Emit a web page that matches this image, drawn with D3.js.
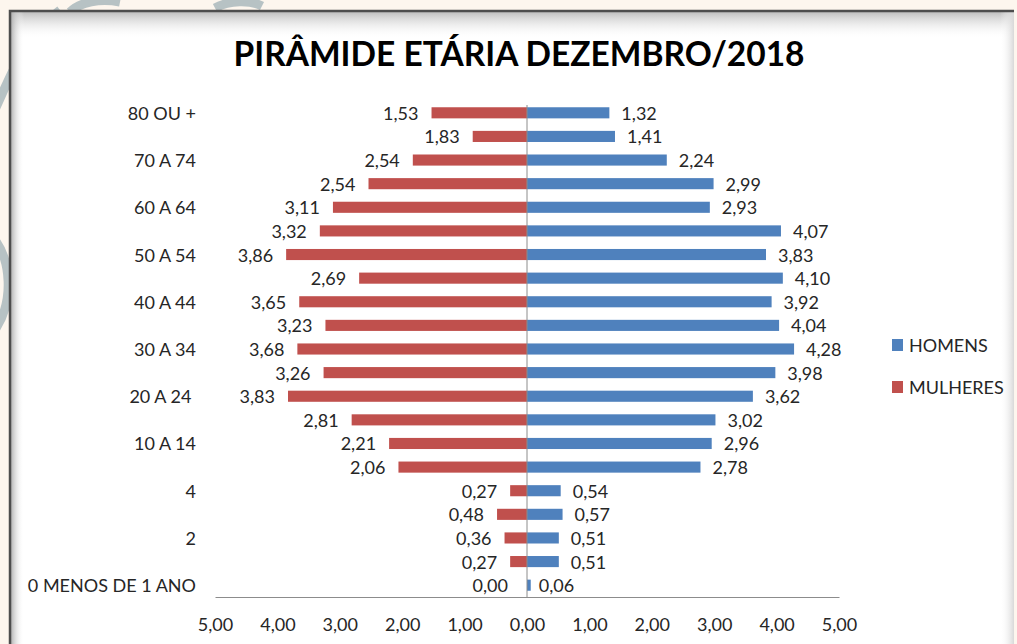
<!DOCTYPE html>
<html>
<head>
<meta charset="utf-8">
<script src="https://cdn.jsdelivr.net/npm/d3@7"></script>
<style>
  body { margin: 0; background: #fdf6ee; }
  svg { display: block; font-family: Lato, "Open Sans", sans-serif; }
</style>
</head>
<body>
<div id="chart"></div>
<script>
// Age groups, top to bottom
const categories = ["80 OU +", "75 A 79", "70 A 74", "65 A 69", "60 A 64", "55 A 59",
    "50 A 54", "45 A 49", "40 A 44", "35 A 39", "30 A 34", "25 A 29", "20 A 24 ",
    "15 A 19", "10 A 14", "5 A 9", "4", "3", "2", "1", "0 MENOS DE 1 ANO"];

// Bar lengths (%)
const homens = [1.32, 1.41, 2.24, 2.99, 2.93, 4.07, 3.83, 4.10, 3.92, 4.04, 4.28,
    3.98, 3.62, 3.02, 2.96, 2.78, 0.54, 0.57, 0.51, 0.51, 0.06];
const mulheres = [1.53, 0.87, 1.83, 2.54, 3.11, 3.32, 3.86, 2.69, 3.65, 3.23, 3.68,
    3.26, 3.83, 2.81, 2.21, 2.06, 0.27, 0.48, 0.36, 0.27, 0.00];

// Data label texts as printed on the chart
const homensLabels = ["1,32", "1,41", "2,24", "2,99", "2,93", "4,07", "3,83", "4,10",
    "3,92", "4,04", "4,28", "3,98", "3,62", "3,02", "2,96", "2,78", "0,54", "0,57",
    "0,51", "0,51", "0,06"];
const mulheresLabels = ["1,53", "1,83", "2,54", "2,54", "3,11", "3,32", "3,86", "2,69",
    "3,65", "3,23", "3,68", "3,26", "3,83", "2,81", "2,21", "2,06", "0,27", "0,48",
    "0,36", "0,27", "0,00"];

const xTicks = [-5, -4, -3, -2, -1, 0, 1, 2, 3, 4, 5];
const series = ["HOMENS", "MULHERES"];

const width = 1017,
    height = 644,
    margin = ({top: 101, right: 178, bottom: 47, left: 215});

const colors = {HOMENS: "#4f81bd", MULHERES: "#c0504d"};

const svg = d3.select("#chart")
    .append("svg")
    .attr("width", width)
    .attr("height", height);

// Slide background and framed panel
const defs = svg.append("defs");
const topShade = defs.append("linearGradient").attr("id", "topShade")
    .attr("x1", 0).attr("y1", 0).attr("x2", 0).attr("y2", 1);
topShade.append("stop").attr("offset", 0).attr("stop-color", "#b9b9b9");
topShade.append("stop").attr("offset", 1).attr("stop-color", "#ffffff").attr("stop-opacity", 0);
const leftShade = defs.append("linearGradient").attr("id", "leftShade")
    .attr("x1", 0).attr("y1", 0).attr("x2", 1).attr("y2", 0);
leftShade.append("stop").attr("offset", 0).attr("stop-color", "#a8a8a8");
leftShade.append("stop").attr("offset", 1).attr("stop-color", "#ffffff").attr("stop-opacity", 0);
const rightShade = defs.append("linearGradient").attr("id", "rightShade")
    .attr("x1", 0).attr("y1", 0).attr("x2", 1).attr("y2", 0);
rightShade.append("stop").attr("offset", 0).attr("stop-color", "#ffffff").attr("stop-opacity", 0);
rightShade.append("stop").attr("offset", 1).attr("stop-color", "#d8d8d8");

svg.append("rect").attr("width", width).attr("height", height).attr("fill", "#fdf6ee");

// pale decorative swirls behind the panel
svg.append("g")
    .attr("fill", "none")
    .attr("stroke", "#b7c2c4")
    .attr("stroke-width", 9)
    .selectAll("path")
    .data(["M-10,120 C10,80 20,40 60,10", "M-5,330 C15,300 10,260 -5,240",
        "M70,12 C80,2 100,-2 120,2", "M215,8 C230,0 250,0 262,6"])
    .join("path")
    .attr("d", d => d);

svg.append("rect")
    .attr("x", 10).attr("y", 11)
    .attr("width", 1004).attr("height", 650)
    .attr("fill", "#ffffff");
svg.append("rect").attr("x", 10).attr("y", 11).attr("width", 1004).attr("height", 28)
    .attr("fill", "url(#topShade)");
svg.append("rect").attr("x", 10).attr("y", 11).attr("width", 14).attr("height", 650)
    .attr("fill", "url(#leftShade)");
svg.append("rect").attr("x", 1000).attr("y", 11).attr("width", 14).attr("height", 650)
    .attr("fill", "url(#rightShade)");
svg.append("path")
    .attr("d", "M10,661 V11 H1014")
    .attr("fill", "none")
    .attr("stroke", "#4d4d4d")
    .attr("stroke-width", 2.5);

// Title
svg.append("text")
    .attr("x", 519)
    .attr("y", 66)
    .attr("text-anchor", "middle")
    .attr("font-size", 33.5)
    .attr("font-weight", 700)
    .attr("fill", "#000")
    .text("PIRÂMIDE ETÁRIA DEZEMBRO/2018");

// Scales
const x = d3.scaleLinear()
    .domain([-5, 5])
    .range([margin.left, width - margin.right]);

const y = d3.scaleBand()
    .domain(categories)
    .range([margin.top, height - margin.bottom])
    .paddingInner(0.53)
    .paddingOuter(0.265);

// Bars
const rows = categories.map((c, i) => ({
    cat: c, h: homens[i], m: mulheres[i], hl: homensLabels[i], ml: mulheresLabels[i]
}));

svg.append("g")
    .attr("fill", colors.MULHERES)
    .selectAll("rect")
    .data(rows)
    .join("rect")
    .attr("x", d => x(-d.m))
    .attr("y", d => y(d.cat))
    .attr("width", d => x(0) - x(-d.m))
    .attr("height", y.bandwidth());

svg.append("g")
    .attr("fill", colors.HOMENS)
    .selectAll("rect")
    .data(rows)
    .join("rect")
    .attr("x", x(0))
    .attr("y", d => y(d.cat))
    .attr("width", d => x(d.h) - x(0))
    .attr("height", y.bandwidth());

// Data labels
const labelG = svg.append("g")
    .attr("font-size", 18)
    .attr("fill", "#262626")
    .attr("dominant-baseline", "central");

labelG.selectAll(".lm")
    .data(rows)
    .join("text")
    .attr("class", "lm")
    .attr("text-anchor", "end")
    .attr("x", d => x(-d.m) - (d.m === 0 ? 19 : 13))
    .attr("y", d => y(d.cat) + y.bandwidth() / 2)
    .text(d => d.ml);

labelG.selectAll(".lh")
    .data(rows)
    .join("text")
    .attr("class", "lh")
    .attr("text-anchor", "start")
    .attr("x", d => x(d.h) + (d.h < 0.1 ? 8 : 12))
    .attr("y", d => y(d.cat) + y.bandwidth() / 2)
    .text(d => d.hl);

// Vertical category axis at zero
svg.append("line")
    .attr("x1", x(0)).attr("x2", x(0))
    .attr("y1", margin.top + 4).attr("y2", height - margin.bottom)
    .attr("stroke", "#8c8c8c")
    .attr("stroke-width", 1);

// Category labels (every other one)
svg.append("g")
    .attr("font-size", 18)
    .attr("fill", "#262626")
    .attr("text-anchor", "end")
    .attr("dominant-baseline", "central")
    .selectAll("text")
    .data(categories.filter((c, i) => i % 2 === 0))
    .join("text")
    .attr("x", 196)
    .attr("y", d => y(d) + y.bandwidth() / 2)
    .attr("xml:space", "preserve")
    .style("white-space", "pre")
    .text(d => d);

// Bottom value axis
const xAxis = svg.append("g")
    .attr("transform", `translate(0,${height - margin.bottom})`)
    .call(d3.axisBottom(x)
        .tickValues(xTicks)
        .tickSize(0)
        .tickPadding(21)
        .tickFormat(d => d3.format(".2f")(Math.abs(d)).replace(".", ",")));

xAxis.select(".domain")
    .attr("stroke", "#8c8c8c")
    .attr("stroke-width", 1);
xAxis.selectAll("text")
    .attr("font-family", "Lato, 'Open Sans', sans-serif")
    .attr("font-size", 18)
    .attr("fill", "#262626");

// Legend
const legend = svg.append("g")
    .selectAll("g")
    .data(series)
    .join("g")
    .attr("transform", (d, i) => `translate(892,${345 + i * 42})`);

legend.append("rect")
    .attr("x", 0).attr("y", -6)
    .attr("width", 11).attr("height", 12)
    .attr("fill", d => colors[d]);

legend.append("text")
    .attr("x", 17)
    .attr("dominant-baseline", "central")
    .attr("font-size", 18)
    .attr("fill", "#262626")
    .text(d => d);
</script>
</body>
</html>
